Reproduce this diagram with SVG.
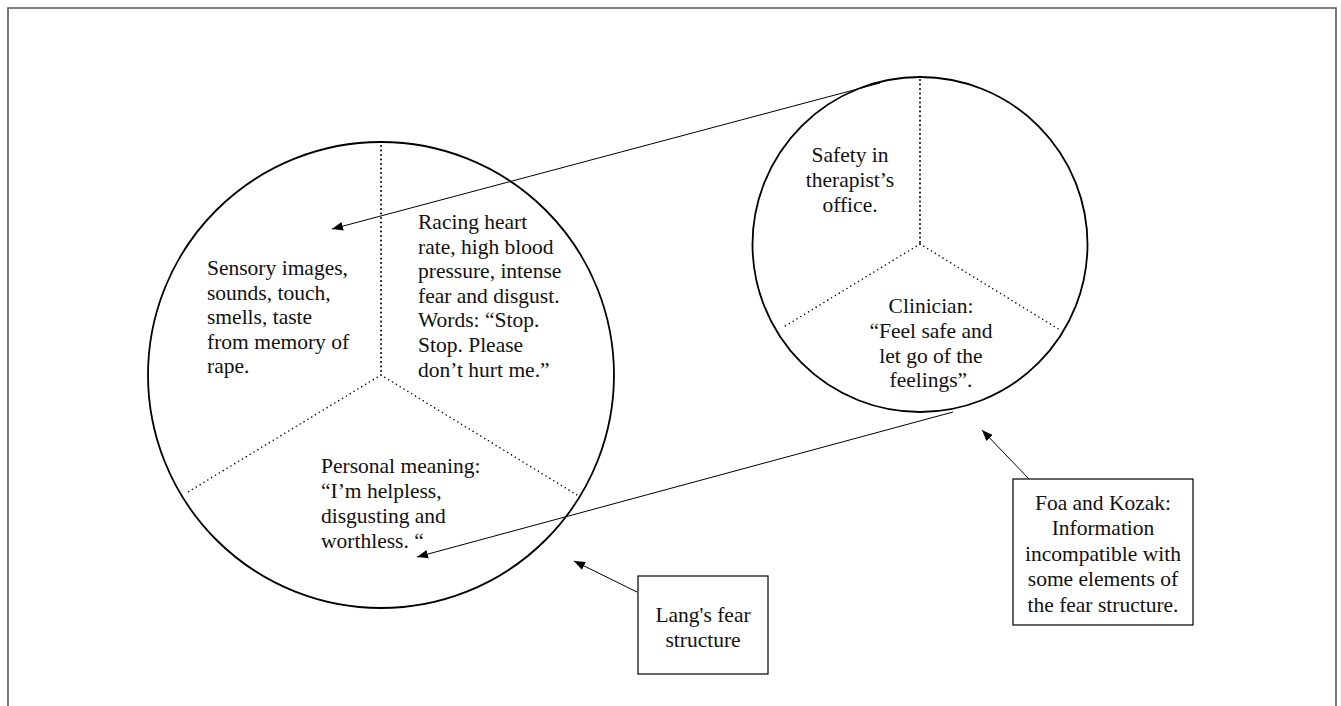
<svg xmlns="http://www.w3.org/2000/svg" width="1341" height="706" viewBox="0 0 1341 706">
<style>
  .bg { fill: #ffffff; }
  .frame { fill: none; stroke: #555555; stroke-width: 1.6; }
  .circle { fill: none; stroke: #000000; stroke-width: 1.8; }
  .dot { fill: none; stroke: #000000; stroke-width: 2; stroke-dasharray: 0 4.5; stroke-linecap: round; }
  .dot2 { fill: none; stroke: #000000; stroke-width: 1.6; stroke-dasharray: 0 4.5; stroke-linecap: round; }
  .box { fill: #ffffff; stroke: #000000; stroke-width: 1.2; }
  .conn { fill: none; stroke: #000000; stroke-width: 1; }
  text { font-family: "Liberation Serif", "Times New Roman", serif; font-size: 21.5px; fill: #111111; }
  .mid { text-anchor: middle; }
</style>
<defs>
  <marker id="arrow" viewBox="0 0 10 10" refX="10" refY="5" markerWidth="11" markerHeight="11" markerUnits="userSpaceOnUse" orient="auto">
    <path d="M0,1 L10,5 L0,9 Z" fill="#000000"/>
  </marker>
</defs>
<rect class="bg" x="0" y="0" width="1341" height="706"/>
<path class="frame" d="M8,710 V8 H1336 V710"/>

<g id="lang-structure">
  <circle class="circle" cx="381" cy="375" r="233"/>
  <line class="dot" x1="381" y1="146" x2="381" y2="375"/>
  <line class="dot2" x1="381" y1="375" x2="188" y2="492"/>
  <line class="dot2" x1="381" y1="375" x2="577" y2="495"/>
  <text x="207" y="275">Sensory images,</text>
  <text x="207" y="299.5">sounds, touch,</text>
  <text x="207" y="324">smells, taste</text>
  <text x="207" y="348.5">from memory of</text>
  <text x="207" y="373">rape.</text>
  <text x="418" y="229">Racing heart</text>
  <text x="418" y="253.6">rate, high blood</text>
  <text x="418" y="278.2">pressure, intense</text>
  <text x="418" y="302.8">fear and disgust.</text>
  <text x="418" y="327.4">Words: “Stop.</text>
  <text x="418" y="352">Stop. Please</text>
  <text x="418" y="376.6">don’t hurt me.”</text>
  <text x="321" y="473">Personal meaning:</text>
  <text x="321" y="498">“I’m helpless,</text>
  <text x="321" y="523">disgusting and</text>
  <text x="321" y="548">worthless. “</text>
</g>

<g id="therapy-structure">
  <circle class="circle" cx="920" cy="244.5" r="167.5"/>
  <line class="dot" x1="920" y1="80" x2="920" y2="244"/>
  <line class="dot2" x1="920" y1="244" x2="782" y2="328"/>
  <line class="dot2" x1="920" y1="244" x2="1060" y2="330"/>
  <text class="mid" x="850" y="162">Safety in</text>
  <text class="mid" x="850" y="187">therapist’s</text>
  <text class="mid" x="850" y="212">office.</text>
  <text class="mid" x="931" y="313">Clinician:</text>
  <text class="mid" x="931" y="338">“Feel safe and</text>
  <text class="mid" x="931" y="362.5">let go of the</text>
  <text class="mid" x="931" y="387">feelings”.</text>
</g>

<g id="lang-label">
  <rect class="box" x="638" y="576" width="130" height="98"/>
  <text class="mid" x="703" y="622">Lang's fear</text>
  <text class="mid" x="703" y="647">structure</text>
</g>

<g id="foa-label">
  <rect class="box" x="1013" y="479" width="180" height="146"/>
  <text class="mid" x="1103" y="510">Foa and Kozak:</text>
  <text class="mid" x="1103" y="535">Information</text>
  <text class="mid" x="1103" y="561">incompatible with</text>
  <text class="mid" x="1103" y="586">some elements of</text>
  <text class="mid" x="1103" y="611.5">the fear structure.</text>
</g>

<g id="connectors">
  <line class="conn" x1="880" y1="83" x2="332" y2="229" marker-end="url(#arrow)"/>
  <line class="conn" x1="953" y1="412" x2="417" y2="557" marker-end="url(#arrow)"/>
  <line class="conn" x1="637" y1="592" x2="574" y2="561" marker-end="url(#arrow)"/>
  <line class="conn" x1="1029" y1="479" x2="982" y2="430" marker-end="url(#arrow)"/>
</g>
</svg>
